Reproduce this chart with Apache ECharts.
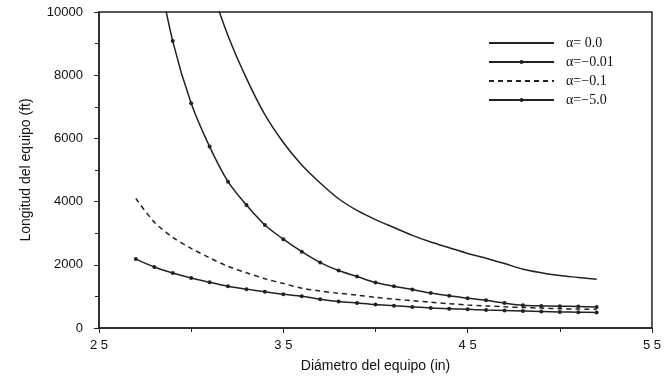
<!DOCTYPE html>
<html>
<head>
<meta charset="utf-8">
<script src="https://cdn.jsdelivr.net/npm/echarts@6/dist/echarts.min.js"></script>
<style>
  html, body { margin: 0; padding: 0; background: #fff; }
  #chart { width: 664px; height: 379px; }
</style>
</head>
<body>
<div id="chart"></div>
<script>
// diámetro (in) -> longitud (ft)
var seriesNames = ['α= 0.0', 'α=−0.01', 'α=−0.1', 'α=−5.0'];

var dA0 = [31, 32, 33, 34, 35, 36, 37, 38, 39, 40, 41, 42, 43, 44, 45, 46, 47, 48, 49, 50, 51, 52];
var lA0 = [10900, 9250, 7900, 6750, 5870, 5160, 4590, 4090, 3720, 3430, 3180, 2930, 2720, 2540, 2360, 2210, 2040, 1860, 1750, 1660, 1600, 1540];

var dA001 = [28, 29, 30, 31, 32, 33, 34, 35, 36, 37, 38, 39, 40, 41, 42, 43, 44, 45, 46, 47, 48, 49, 50, 51, 52];
var lA001 = [11900, 9080, 7110, 5740, 4630, 3890, 3260, 2810, 2415, 2070, 1820, 1630, 1440, 1320, 1215, 1110, 1020, 945, 875, 790, 720, 700, 690, 680, 665];

var dA01 = [27, 28, 29, 30, 31, 32, 33, 34, 35, 36, 37, 38, 39, 40, 41, 42, 43, 44, 45, 46, 47, 48, 49, 50, 51, 52];
var lA01 = [4100, 3350, 2870, 2520, 2220, 1950, 1750, 1560, 1410, 1260, 1170, 1100, 1040, 970, 915, 865, 815, 770, 730, 700, 670, 650, 630, 610, 600, 590];

var dA5 = [27, 28, 29, 30, 31, 32, 33, 34, 35, 36, 37, 38, 39, 40, 41, 42, 43, 44, 45, 46, 47, 48, 49, 50, 51, 52];
var lA5 = [2180, 1930, 1740, 1580, 1450, 1320, 1230, 1145, 1065, 1005, 910, 840, 790, 740, 705, 665, 630, 610, 590, 570, 555, 540, 525, 510, 500, 490];

var xTickLabels = { 25: '2 5', 35: '3 5', 45: '4 5', 55: '5 5' };

function pairs(xs, ys) {
    return xs.map(function (x, i) { return [x, ys[i]]; });
}

var ink = '#222';

var chart = echarts.init(document.getElementById('chart'));
var option = {
    backgroundColor: '#fff',
    animation: false,
    grid: {
        left: 99, right: 8, top: 12, bottom: 51,
        show: true,
        borderColor: ink,
        borderWidth: 1.5
    },
    legend: {
        orient: 'vertical',
        left: 483,
        top: 31,
        itemWidth: 65,
        itemHeight: 5,
        itemGap: 5,
        data: [
            { name: seriesNames[0], itemStyle: { opacity: 0 } },
            { name: seriesNames[1] },
            { name: seriesNames[2], itemStyle: { opacity: 0 } },
            { name: seriesNames[3] }
        ],
        textStyle: {
            fontFamily: 'Liberation Serif',
            fontSize: 14,
            color: '#111',
            padding: [0, 0, 0, 7]
        }
    },
    xAxis: {
        type: 'value',
        min: 25,
        max: 55,
        interval: 10,
        name: 'Diámetro del equipo (in)',
        nameLocation: 'middle',
        nameGap: 31,
        nameTextStyle: { fontFamily: 'Liberation Sans', fontSize: 14, color: '#111' },
        axisLine: { lineStyle: { color: ink, width: 1.5 } },
        axisTick: { length: 5, lineStyle: { color: ink } },
        minorTick: { show: true, splitNumber: 2, length: 4, lineStyle: { color: ink } },
        splitLine: { show: false },
        axisLabel: {
            margin: 11,
            fontFamily: 'Liberation Sans',
            fontSize: 13,
            color: '#111',
            formatter: function (v) { return xTickLabels[v] || ''; }
        }
    },
    yAxis: {
        type: 'value',
        min: 0,
        max: 10000,
        interval: 2000,
        name: 'Longitud del equipo (ft)',
        nameLocation: 'middle',
        nameGap: 66,
        nameTextStyle: { fontFamily: 'Liberation Sans', fontSize: 14, color: '#111' },
        axisLine: { show: true, lineStyle: { color: ink, width: 1.5 } },
        axisTick: { show: true, length: 5, lineStyle: { color: ink } },
        minorTick: { show: true, splitNumber: 2, length: 4, lineStyle: { color: ink } },
        splitLine: { show: false },
        axisLabel: {
            margin: 16,
            fontFamily: 'Liberation Sans',
            fontSize: 13,
            color: '#111',
            formatter: function (v) { return String(v); }
        }
    },
    series: [
        {
            name: seriesNames[0],
            type: 'line',
            data: pairs(dA0, lA0),
            smooth: 0.3,
            symbol: 'none',
            lineStyle: { color: ink, width: 1.5 },
            itemStyle: { color: ink }
        },
        {
            name: seriesNames[1],
            type: 'line',
            data: pairs(dA001, lA001),
            smooth: 0.3,
            symbol: 'circle',
            symbolSize: 4,
            lineStyle: { color: ink, width: 1.5 },
            itemStyle: { color: ink }
        },
        {
            name: seriesNames[2],
            type: 'line',
            data: pairs(dA01, lA01),
            smooth: 0.3,
            symbol: 'none',
            lineStyle: { color: ink, width: 1.5, type: [5, 4] },
            itemStyle: { color: ink }
        },
        {
            name: seriesNames[3],
            type: 'line',
            data: pairs(dA5, lA5),
            smooth: 0.3,
            symbol: 'circle',
            symbolSize: 4,
            lineStyle: { color: ink, width: 1.5 },
            itemStyle: { color: ink }
        }
    ]
};
chart.setOption(option);
</script>
</body>
</html>
